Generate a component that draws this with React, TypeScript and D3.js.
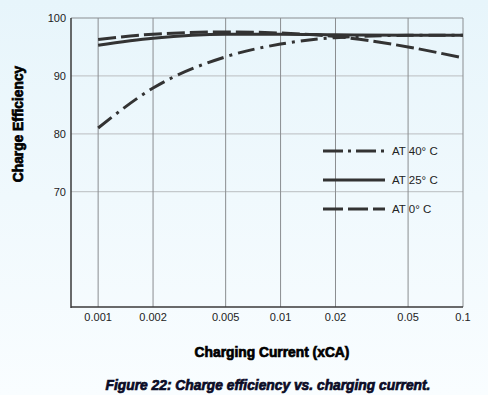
import { useEffect } from 'react';
import * as d3 from 'd3';

const currents = [0.001, 0.002, 0.005, 0.01, 0.02, 0.05, 0.1];
const xTicks = [0.001, 0.002, 0.005, 0.01, 0.02, 0.05, 0.1];
const xTickLabels = ['0.001', '0.002', '0.005', '0.01', '0.02', '0.05', '0.1'];
const yTicks = [70, 80, 90, 100];

const at40 = [81, 87.9, 93.3, 95.5, 96.6, 97.0, 97.0];
const at25 = [95.3, 96.5, 97.2, 97.2, 97.1, 97.0, 97.0];
const at0 = [96.3, 97.2, 97.6, 97.4, 96.8, 95.0, 93.1];

const seriesNames = ['AT 40° C', 'AT 25° C', 'AT 0° C'];

const W = 488;
const H = 395;
const margin = { left: 71, right: 25, top: 18, bottom: 88 };

export default function App() {
  useEffect(() => {
    document.body.style.margin = '0';
  }, []);

  const x = d3.scaleLog().domain([0.00071, 0.1]).range([margin.left, W - margin.right]);
  const y = d3.scaleLinear().domain([50, 100]).range([H - margin.bottom + 0.5, margin.top]);

  const line = d3
    .line<number>()
    .x((_, i) => x(currents[i]))
    .y((d) => y(d))
    .curve(d3.curveMonotoneX);

  const series = [
    { name: seriesNames[0], values: at40, dash: '17,6,3,6', legendDash: '20,5,3,5' },
    { name: seriesNames[1], values: at25, dash: 'none', legendDash: 'none' },
    { name: seriesNames[2], values: at0, dash: '18,5', legendDash: '20,5' },
  ];

  const x0 = margin.left;
  const x1 = W - margin.right;
  const y0 = margin.top;
  const y1 = H - margin.bottom;

  return (
    <svg width={W} height={H} style={{ display: 'block', fontFamily: 'Liberation Sans, Arial, sans-serif' }}>
      <defs>
        <linearGradient id="bg" x1="0" y1="0" x2="0" y2="1">
          <stop offset="0" stopColor="#e7f5fb" />
          <stop offset="1" stopColor="#f9fdff" />
        </linearGradient>
      </defs>
      <rect width={W} height={H} fill="url(#bg)" />

      {/* grid */}
      {yTicks.slice(0, 3).map((t) => (
        <line key={'gy' + t} x1={x0} x2={x1} y1={y(t)} y2={y(t)} stroke="#c4c9cc" strokeWidth={1.2} />
      ))}
      {xTicks.map((t) => (
        <line key={'gx' + t} x1={x(t)} x2={x(t)} y1={y0} y2={y1} stroke="#8a8d90" strokeWidth={1} />
      ))}
      <line x1={x0} x2={x1} y1={y0} y2={y0} stroke="#8a8d90" strokeWidth={1} />

      {/* axes */}
      <line x1={x0} x2={x0} y1={y0} y2={y1 + 1} stroke="#3a3a3a" strokeWidth={1.5} />
      <line x1={x0} x2={x1} y1={y1} y2={y1} stroke="#3a3a3a" strokeWidth={1.5} />

      {yTicks.map((t) => (
        <text key={'ty' + t} x={66} y={y(t)} dy="0.35em" textAnchor="end" fontSize={11} fill="#222">
          {t}
        </text>
      ))}
      {xTicks.map((t, i) => (
        <text key={'tx' + t} x={x(t)} y={321} textAnchor="middle" fontSize={11} fill="#222">
          {xTickLabels[i]}
        </text>
      ))}

      {/* curves */}
      {series.map((s) => (
        <path
          key={s.name}
          d={line(s.values) || ''}
          fill="none"
          stroke="#333"
          strokeWidth={3}
          strokeDasharray={s.dash}
        />
      ))}

      {/* legend */}
      {series.map((s, i) => (
        <g key={'lg' + s.name} transform={`translate(323, ${151 + i * 29})`}>
          <line x1={0} x2={62} y1={0} y2={0} stroke="#333" strokeWidth={3} strokeDasharray={s.legendDash} />
          <text x={69} y={0} dy="0.35em" fontSize={11.5} fill="#222">
            {s.name}
          </text>
        </g>
      ))}

      {/* labels */}
      <text
        transform={`translate(23, 124) rotate(-90)`}
        textAnchor="middle"
        fontSize={13.8}
        fontWeight="bold"
        fill="#000"
        stroke="#000"
        strokeWidth={0.7}
      >
        Charge Efficiency
      </text>
      <text x={272} y={357} textAnchor="middle" fontSize={13.8} fontWeight="bold" fill="#000" stroke="#000" strokeWidth={0.7}>
        Charging Current (xCA)
      </text>
      <text
        x={268}
        y={390}
        textAnchor="middle"
        fontSize={13.8}
        fontWeight="bold"
        fontStyle="italic"
        fill="#0b0b26"
        stroke="#0b0b26"
        strokeWidth={0.7}
      >
        Figure 22: Charge efficiency vs. charging current.
      </text>
    </svg>
  );
}
